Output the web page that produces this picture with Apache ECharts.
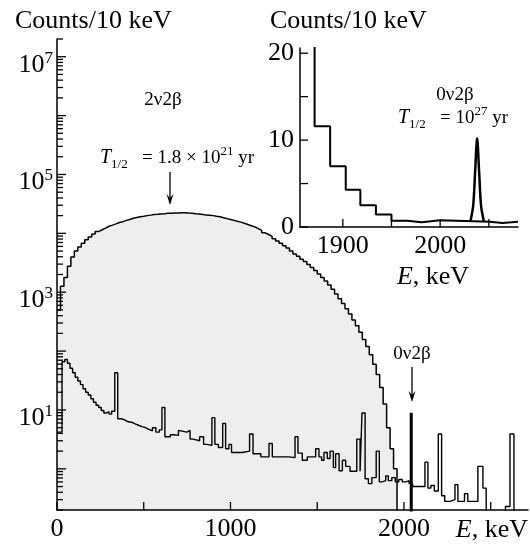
<!DOCTYPE html>
<html>
<head>
<meta charset="utf-8">
<script src="https://cdn.jsdelivr.net/npm/echarts@6/dist/echarts.min.js"></script>
<style>
  html, body { margin: 0; padding: 0; background: #fff; }
  #chart { width: 530px; height: 546px; }
</style>
</head>
<body>
<div id="chart"></div>
<script>
// 2v2b spectrum, one value per 20 keV step starting at 0 keV
var twoNuBin = 20;
var twoNuCounts = [500, 1260, 1780, 2750, 3980, 5010, 5890, 6760, 7760, 8710,
    9770, 10700, 11500, 12300, 13200, 13800, 14500, 15300, 15800, 16600,
    17200, 18000, 18600, 19100, 19500, 20000, 20400, 20900, 21100, 21400,
    21600, 21900, 21900, 22100, 22100, 22400, 22400, 22100, 21900, 21600,
    21400, 20900, 20400, 20200, 20000, 19500, 19100, 18400, 17800, 17200,
    16600, 16000, 15500, 14800, 14100, 13500, 12900, 12000, 11200, 10200,
    9550, 8910, 8130, 7410, 6760, 6170, 5620, 5010, 4470, 4070,
    3630, 3310, 2950, 2630, 2340, 2040, 1780, 1550, 1320, 1120,
    933, 776, 646, 525, 427, 339, 269, 209, 158, 120,
    87, 60, 40, 24, 12.6, 5.0, 2.2, 1.0];
var twoNuEnd = 1960;

// Th + U background: left edge of each step (keV) and its counts
var bgEnergy = [0, 29, 45, 60, 75, 90, 105, 120, 135, 150,
    165, 180, 195, 210, 225, 240, 255, 270, 285, 300,
    315, 333, 350, 370, 390, 410, 430, 450, 470, 490,
    510, 530, 550, 570, 590, 605, 622, 653, 672, 700,
    710, 748, 767, 785, 822, 845, 865, 893, 910, 930,
    955, 972, 991, 1006, 1068, 1110, 1130, 1175, 1222, 1241,
    1318, 1337, 1372, 1389, 1414, 1443, 1491, 1510, 1525, 1539,
    1558, 1574, 1593, 1606, 1626, 1645, 1664, 1689, 1728, 1747,
    1758, 1776, 1795, 1815, 1840, 1858, 1875, 1895, 1910, 1930,
    1950, 1970, 1990, 2010, 2030, 2050, 2121, 2138, 2155, 2175,
    2198, 2217, 2235, 2265, 2294, 2311, 2349, 2368, 2426, 2455,
    2474, 2585, 2611, 2634];
var bgCounts = [4.2, 66, 72, 62, 51, 43, 36, 31, 27, 23,
    20, 18, 15.5, 13.5, 12, 11, 9.8, 8.9, 9.3, 8.5,
    9.5, 43, 7.1, 6.8, 6.3, 6.2, 5.8, 5.5, 5.2, 5.0,
    4.7, 4.4, 5.0, 4.2, 4.6, 11, 3.5, 3.8, 3.7, 4.5,
    4.2, 4.5, 3.2, 3.0, 3.5, 2.6, 2.5, 7.4, 2.6, 2.3,
    5.9, 2.2, 2.6, 1.9, 2.0, 3.9, 1.8, 1.6, 2.7, 1.6,
    1.6, 1.55, 3.5, 1.85, 1.4, 1.6, 2.2, 1.6, 1.4, 1.9,
    1.5, 2.0, 1.05, 1.8, 0.93, 1.4, 1.1, 0.91, 3.2, 0.91,
    8.9, 0.68, 0.56, 0.71, 2.0, 0.6, 0.63, 0.76, 0.63, 0.71,
    0.6, 0.66, 0.6, 0.63, 0.56, 0.5, 1.3, 0.47, 0.52, 0.42,
    3.9, 0.35, 0.28, 0.3, 0.54, 0.28, 0.38, 0.28, 1.1, 0.47,
    0, 0.23, 3.9, 0];
var bgEnd = 2715;

// 0v2b line in the main plot
var zeroNuEnergy = 2042;
var zeroNuCounts = 9;

// inset: 2v2b tail steps and the 0v2b peak
var insetEnergy = [1856, 1871, 1887, 1903, 1918, 1934, 1950, 1966, 1981, 2000, 2051, 2064];
var insetCounts = [25, 11.6, 7.0, 4.3, 2.5, 1.45, 0.72, 0.54, 0.77, 0.6, 0.45, 0.6];
var insetStart = 1856;
var insetEnd = 2080;
var peakEnergy = [2031, 2034, 2036, 2038, 2040, 2042, 2045];
var peakCounts = [0.6, 2.5, 6.5, 10.2, 6.5, 2.5, 0.6];

var mainXTicks = [0, 500, 1000, 1500, 2000, 2500];
var mainXLabels = [0, 1000, 2000];
var mainYLabels = [1e1, 1e3, 1e5, 1e7];
var insetXTicks = [1900, 1950, 2000, 2050];
var insetXLabels = [1900, 2000];
var insetYTicks = [0, 5, 10, 15, 20];
var insetYLabels = [0, 10, 20];

var Y_MIN = 0.2, Y_MAX = 2e7;
var FLOOR = 0.05;   // empty bins sit below the log axis
var serif = 'Liberation Serif';

function stepData(xs, ys, end) {
    var d = [];
    for (var i = 0; i < xs.length; i++) {
        d.push([xs[i], ys[i] > 0 ? ys[i] : FLOOR]);
    }
    d.push([end, d[d.length - 1][1]]);
    return d;
}

var twoNuData = stepData(twoNuCounts.map(function (c, i) { return i * twoNuBin; }), twoNuCounts, twoNuEnd);
twoNuData.push([twoNuEnd, FLOOR]);

var decades = [], minors = [];
for (var p = -1; p <= 7; p++) {
    var d = Math.pow(10, p);
    if (p >= 0) decades.push(d);
    for (var m = 2; m <= 9; m++) {
        var v = m * d;
        if (v >= Y_MIN * 0.999 && v <= Y_MAX * 1.001) minors.push(v);
    }
}

// inward ticks drawn through the axis scales
function tickSeries(xi, yi, values, base, len, vertical) {
    return {
        type: 'custom', xAxisIndex: xi, yAxisIndex: yi, silent: true, z: 6, clip: false,
        data: values.map(function (v) { return vertical ? [v, base] : [base, v]; }),
        renderItem: function (params, api) {
            var pt = api.coord([api.value(0), api.value(1)]);
            return {
                type: 'line',
                shape: vertical
                    ? { x1: pt[0], y1: pt[1], x2: pt[0], y2: pt[1] - len }
                    : { x1: pt[0], y1: pt[1], x2: pt[0] + len, y2: pt[1] },
                style: { stroke: '#000', lineWidth: 1.3 }
            };
        }
    };
}

function arrow(x, y1, y2) {
    return [
        { type: 'line', shape: { x1: x, y1: y1, x2: x, y2: y2 - 5 }, style: { stroke: '#000', lineWidth: 1.3 } },
        { type: 'polygon', shape: { points: [[x - 3.5, y2 - 11], [x, y2], [x + 3.5, y2 - 11], [x, y2 - 7]] }, style: { fill: '#000' } }
    ];
}

function text(x, y, str, size, align, extra) {
    var el = {
        type: 'text', x: x, y: y,
        style: {
            text: str, fill: '#000',
            font: size + 'px "' + serif + '"',
            fontSize: size, fontFamily: serif,
            align: align, textAlign: align,
            verticalAlign: 'middle', textVerticalAlign: 'middle'
        }
    };
    if (extra) { for (var k in extra) el.style[k] = extra[k]; }
    return el;
}

var halfLife = {
    t: { fontSize: 20, fontFamily: serif, fontStyle: 'italic', lineHeight: 26 },
    sub: { fontSize: 13, fontFamily: serif, lineHeight: 13, verticalAlign: 'bottom' },
    n: { fontSize: 19, fontFamily: serif, lineHeight: 26 },
    sup: { fontSize: 13, fontFamily: serif, lineHeight: 13, verticalAlign: 'top' }
};

var axisLine = { lineStyle: { color: '#000', width: 1.5 } };
var labelStyle = { color: '#000', fontFamily: serif, fontSize: 26 };

var chart = echarts.init(document.getElementById('chart'));

var option = {
    animation: false,
    backgroundColor: '#fff',
    grid: [
        { left: 57, right: 2, top: 39, bottom: 36, containLabel: false, outerBoundsMode: 'none' },
        { left: 300, top: 48, width: 218, height: 179, containLabel: false, outerBoundsMode: 'none' }
    ],
    xAxis: [
        {
            type: 'value', gridIndex: 0, min: 0, max: bgEnd, z: 10,
            axisLine: axisLine,
            axisTick: { show: false },
            axisLabel: Object.assign({ customValues: mainXLabels, margin: 6, formatter: function (v) { return String(v); } }, labelStyle),
            splitLine: { show: false }
        },
        {
            type: 'value', gridIndex: 1, min: insetStart, max: insetEnd, z: 10,
            axisLine: axisLine,
            axisTick: { show: false },
            axisLabel: Object.assign({ customValues: insetXLabels, margin: 6, formatter: function (v) { return String(v); } }, labelStyle),
            splitLine: { show: false }
        }
    ],
    yAxis: [
        {
            type: 'log', logBase: 10, gridIndex: 0, position: 'left', min: Y_MIN, max: Y_MAX, z: 10,
            axisLine: axisLine,
            axisTick: { show: false },
            axisLabel: {
                customValues: mainYLabels, margin: 4, padding: [16, 0, 0, 0],
                formatter: function (v) { return '{b|10}{s|' + Math.round(Math.log10(v)) + '}'; },
                rich: {
                    b: { fontSize: 26, fontFamily: serif, color: '#000', lineHeight: 30 },
                    s: { fontSize: 17, fontFamily: serif, color: '#000', lineHeight: 17, verticalAlign: 'top' }
                }
            },
            splitLine: { show: false }
        },
        {
            type: 'value', gridIndex: 1, min: 0, max: 20.6, z: 10,
            axisLine: axisLine,
            axisTick: { show: false },
            axisLabel: Object.assign({ customValues: insetYLabels, margin: 6 }, labelStyle),
            splitLine: { show: false }
        }
    ],
    series: [
        {
            name: '2v2b', type: 'line', step: 'end', xAxisIndex: 0, yAxisIndex: 0,
            data: twoNuData, symbol: 'none', silent: true, z: 1,
            lineStyle: { color: '#000', width: 1.5 },
            areaStyle: { color: '#eeeeee', opacity: 1, origin: 'start' }
        },
        {
            name: 'Th + U', type: 'line', step: 'end', xAxisIndex: 0, yAxisIndex: 0,
            data: stepData(bgEnergy, bgCounts, bgEnd), symbol: 'none', silent: true, z: 2,
            lineStyle: { color: '#000', width: 1.4 }
        },
        {
            name: '0v2b', type: 'line', xAxisIndex: 0, yAxisIndex: 0,
            data: [[zeroNuEnergy, FLOOR], [zeroNuEnergy, zeroNuCounts]], symbol: 'none', silent: true, z: 3,
            lineStyle: { color: '#000', width: 3 }
        },
        {
            name: 'inset tail', type: 'line', step: 'end', xAxisIndex: 1, yAxisIndex: 1,
            data: stepData(insetEnergy, insetCounts, insetEnd), symbol: 'none', silent: true,
            lineStyle: { color: '#000', width: 2 }
        },
        {
            name: 'inset peak', type: 'line', xAxisIndex: 1, yAxisIndex: 1, smooth: 0.3,
            data: peakEnergy.map(function (e, i) { return [e, peakCounts[i]]; }), symbol: 'none', silent: true,
            lineStyle: { color: '#000', width: 2.5 }
        },
        tickSeries(0, 0, mainXTicks, Y_MIN, 8, true),
        tickSeries(0, 0, minors, 0, 6, false),
        tickSeries(0, 0, decades, 0, 9, false),
        tickSeries(1, 1, insetXTicks, 0, 8, true),
        tickSeries(1, 1, insetYTicks, insetStart, 8, false)
    ],
    graphic: [].concat(
        text(15, 21, 'Counts/10 keV', 26, 'left'),
        text(270, 21, 'Counts/10 keV', 26, 'left'),
        text(528, 530, '{i|E}, keV', 26, 'right', { rich: { i: { fontStyle: 'italic', fontSize: 26, fontFamily: serif } } }),
        text(433, 277, '{i|E}, keV', 26, 'center', { rich: { i: { fontStyle: 'italic', fontSize: 26, fontFamily: serif } } }),
        text(163, 100, '2ν2β', 19, 'center'),
        text(100, 158, '{t|T}{sub|1/2}{n|   = 1.8 × 10}{sup|21}{n| yr}', 19, 'left', { rich: halfLife }),
        arrow(170, 172, 205),
        text(455, 95, '0ν2β', 19, 'center'),
        text(398, 118, '{t|T}{sub|1/2}{n|   = 10}{sup|27}{n| yr}', 19, 'left', { rich: halfLife }),
        text(183, 375, 'Th + U', 19, 'center', { backgroundColor: '#fff', padding: [1, 3, 1, 3] }),
        arrow(178, 387, 422),
        text(412, 354, '0ν2β', 19, 'center'),
        arrow(412, 367, 402)
    )
};

chart.setOption(option);
</script>
</body>
</html>
